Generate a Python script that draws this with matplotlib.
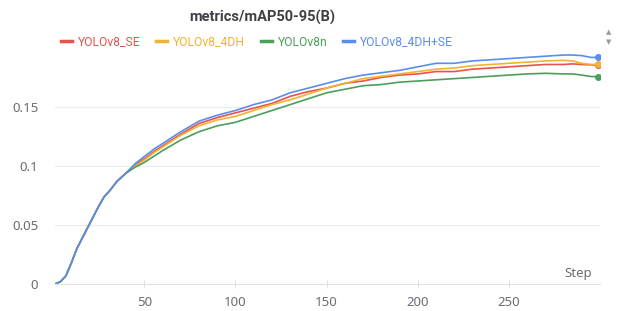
"""Curva metrics/mAP50-95(B) de cuatro modelos YOLO"""
import matplotlib
matplotlib.use("Agg")
import matplotlib.pyplot as plt

plt.rcParams['font.family'] = ['Noto Sans', 'DejaVu Sans']

# Datos
pasos = [1, 4, 7, 10, 13, 16, 19, 22, 25, 28, 31, 35, 40, 45, 50, 55, 60,
         70, 80, 90, 100, 110, 120, 130, 140, 150, 160, 170, 180, 190, 200,
         210, 220, 230, 240, 250, 260, 270, 280, 285, 290, 295, 299]

inicio = [0.000, 0.002, 0.007, 0.018, 0.030, 0.039, 0.048, 0.057, 0.066,
          0.074, 0.079, 0.087, 0.094]

yolo_se = inicio + [0.101, 0.106, 0.112, 0.117, 0.127, 0.136, 0.141, 0.145,
                    0.149, 0.153, 0.159, 0.163, 0.166, 0.170, 0.172, 0.175,
                    0.177, 0.178, 0.180, 0.180, 0.182, 0.183, 0.184, 0.185,
                    0.186, 0.186, 0.1865, 0.186, 0.1857, 0.1855]
yolo_4dh = inicio + [0.100, 0.105, 0.111, 0.116, 0.126, 0.134, 0.139, 0.142,
                     0.147, 0.152, 0.156, 0.161, 0.166, 0.170, 0.174, 0.176,
                     0.178, 0.180, 0.182, 0.183, 0.185, 0.186, 0.187, 0.188,
                     0.189, 0.1895, 0.189, 0.187, 0.186, 0.186]
yolo_n = inicio + [0.099, 0.103, 0.108, 0.113, 0.122, 0.129, 0.134, 0.137,
                   0.142, 0.147, 0.152, 0.157, 0.162, 0.165, 0.168, 0.169,
                   0.171, 0.172, 0.173, 0.174, 0.175, 0.176, 0.177, 0.178,
                   0.1785, 0.178, 0.178, 0.177, 0.1758, 0.1757]
yolo_4dh_se = inicio + [0.102, 0.108, 0.114, 0.119, 0.129, 0.138, 0.143,
                        0.147, 0.152, 0.156, 0.162, 0.166, 0.170, 0.174,
                        0.177, 0.179, 0.181, 0.184, 0.187, 0.187, 0.189,
                        0.190, 0.191, 0.192, 0.193, 0.194, 0.194, 0.1935,
                        0.192, 0.192]

series = [
    ("YOLOv8_SE", yolo_se, "#E5534B"),
    ("YOLOv8_4DH", yolo_4dh, "#F2B233"),
    ("YOLOv8n", yolo_n, "#4C9E5B"),
    ("YOLOv8_4DH+SE", yolo_4dh_se, "#5B8DEF"),
]

GRIS = "#6b6b76"

fig = plt.figure(figsize=(6.22, 3.11), dpi=100)
ax = fig.add_axes([55/622, 1 - 284/311, 545/622, 239/311])

for nombre, valores, color in series:
    ax.plot(pasos, valores, color=color, lw=1.2, label=nombre)
    ax.plot(pasos[-1], valores[-1], "o", color=color, markersize=4)

ax.set_xlim(1, 300)
ax.set_ylim(0, 0.2025)
ax.set_yticks([0, 0.05, 0.1, 0.15], ["0", "0.05", "0.1", "0.15"])
ax.set_xticks([50, 100, 150, 200, 250])
ax.grid(axis="y", color="#ececec", lw=0.8)
ax.set_axisbelow(True)
for lado in ["top", "right", "left"]:
    ax.spines[lado].set_visible(False)
ax.spines["bottom"].set_color("#e2e2e2")
ax.tick_params(axis="y", length=0, labelsize=9.5, labelcolor=GRIS, pad=12)
ax.tick_params(axis="x", direction="inout", length=6, color="#e2e2e2",
               labelsize=9.5, labelcolor=GRIS, pad=6)
ax.text(0.985, 0.015, "Step", transform=ax.transAxes, ha="right",
        va="bottom", fontsize=9.5, color=GRIS)

fig.text(262/622, 1 - 17/311, "metrics/mAP50-95(B)", ha="center",
         va="center", fontsize=10.5, fontweight="bold", color="#3f3f46",
         family="Roboto")
leyenda = fig.legend(loc="center", bbox_to_anchor=(257/622, 1 - 42/311),
                     ncol=4, frameon=False, handlelength=0.9,
                     handletextpad=0.5, columnspacing=1.3,
                     prop={"family": "Roboto", "size": 8.7},
                     labelcolor="linecolor")
for linea in leyenda.get_lines():
    linea.set_linewidth(2.5)

fig.text(609/622, 1 - 33/311, "\u25b2", ha="center", va="center",
         fontsize=5, color="#9a9aa2")
fig.text(609/622, 1 - 43/311, "\u25bc", ha="center", va="center",
         fontsize=5, color="#9a9aa2")

fig.savefig("out.png", dpi=100)
